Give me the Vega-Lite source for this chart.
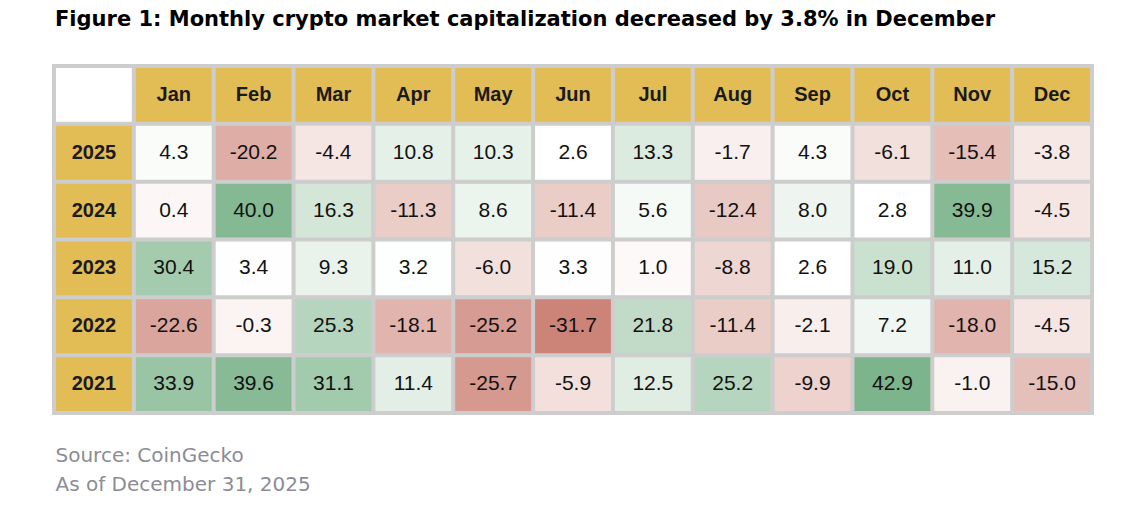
{
  "$schema": "https://vega.github.io/schema/vega-lite/v6.json",
  "width": 1042,
  "height": 351,
  "autosize": "none",
  "padding": {"left": 52, "top": 64, "right": 46, "bottom": 91},
  "background": "#ffffff",
  "config": {"view": {"fill": "#cdcdcd", "stroke": null}},
  "title": {
    "text": "Figure 1: Monthly crypto market capitalization decreased by 3.8% in December",
    "anchor": "start",
    "font": "DejaVu Sans",
    "fontSize": 21,
    "fontWeight": "bold",
    "color": "#000000",
    "offset": 34,
    "dx": 3
  },
  "data": {
    "values": [
      {"kind": "corner", "row": "hdr", "col": "yr", "label": ""},
      {"kind": "month", "row": "hdr", "col": "Jan", "label": "Jan"},
      {"kind": "month", "row": "hdr", "col": "Feb", "label": "Feb"},
      {"kind": "month", "row": "hdr", "col": "Mar", "label": "Mar"},
      {"kind": "month", "row": "hdr", "col": "Apr", "label": "Apr"},
      {"kind": "month", "row": "hdr", "col": "May", "label": "May"},
      {"kind": "month", "row": "hdr", "col": "Jun", "label": "Jun"},
      {"kind": "month", "row": "hdr", "col": "Jul", "label": "Jul"},
      {"kind": "month", "row": "hdr", "col": "Aug", "label": "Aug"},
      {"kind": "month", "row": "hdr", "col": "Sep", "label": "Sep"},
      {"kind": "month", "row": "hdr", "col": "Oct", "label": "Oct"},
      {"kind": "month", "row": "hdr", "col": "Nov", "label": "Nov"},
      {"kind": "month", "row": "hdr", "col": "Dec", "label": "Dec"},
      {"kind": "year", "row": "2025", "col": "yr", "label": "2025"},
      {"kind": "year", "row": "2024", "col": "yr", "label": "2024"},
      {"kind": "year", "row": "2023", "col": "yr", "label": "2023"},
      {"kind": "year", "row": "2022", "col": "yr", "label": "2022"},
      {"kind": "year", "row": "2021", "col": "yr", "label": "2021"},
      {"kind": "cell", "row": "2025", "col": "Jan", "value": 4.3, "label": "4.3"},
      {"kind": "cell", "row": "2025", "col": "Feb", "value": -20.2, "label": "-20.2"},
      {"kind": "cell", "row": "2025", "col": "Mar", "value": -4.4, "label": "-4.4"},
      {"kind": "cell", "row": "2025", "col": "Apr", "value": 10.8, "label": "10.8"},
      {"kind": "cell", "row": "2025", "col": "May", "value": 10.3, "label": "10.3"},
      {"kind": "cell", "row": "2025", "col": "Jun", "value": 2.6, "label": "2.6"},
      {"kind": "cell", "row": "2025", "col": "Jul", "value": 13.3, "label": "13.3"},
      {"kind": "cell", "row": "2025", "col": "Aug", "value": -1.7, "label": "-1.7"},
      {"kind": "cell", "row": "2025", "col": "Sep", "value": 4.3, "label": "4.3"},
      {"kind": "cell", "row": "2025", "col": "Oct", "value": -6.1, "label": "-6.1"},
      {"kind": "cell", "row": "2025", "col": "Nov", "value": -15.4, "label": "-15.4"},
      {"kind": "cell", "row": "2025", "col": "Dec", "value": -3.8, "label": "-3.8"},
      {"kind": "cell", "row": "2024", "col": "Jan", "value": 0.4, "label": "0.4"},
      {"kind": "cell", "row": "2024", "col": "Feb", "value": 40.0, "label": "40.0"},
      {"kind": "cell", "row": "2024", "col": "Mar", "value": 16.3, "label": "16.3"},
      {"kind": "cell", "row": "2024", "col": "Apr", "value": -11.3, "label": "-11.3"},
      {"kind": "cell", "row": "2024", "col": "May", "value": 8.6, "label": "8.6"},
      {"kind": "cell", "row": "2024", "col": "Jun", "value": -11.4, "label": "-11.4"},
      {"kind": "cell", "row": "2024", "col": "Jul", "value": 5.6, "label": "5.6"},
      {"kind": "cell", "row": "2024", "col": "Aug", "value": -12.4, "label": "-12.4"},
      {"kind": "cell", "row": "2024", "col": "Sep", "value": 8.0, "label": "8.0"},
      {"kind": "cell", "row": "2024", "col": "Oct", "value": 2.8, "label": "2.8"},
      {"kind": "cell", "row": "2024", "col": "Nov", "value": 39.9, "label": "39.9"},
      {"kind": "cell", "row": "2024", "col": "Dec", "value": -4.5, "label": "-4.5"},
      {"kind": "cell", "row": "2023", "col": "Jan", "value": 30.4, "label": "30.4"},
      {"kind": "cell", "row": "2023", "col": "Feb", "value": 3.4, "label": "3.4"},
      {"kind": "cell", "row": "2023", "col": "Mar", "value": 9.3, "label": "9.3"},
      {"kind": "cell", "row": "2023", "col": "Apr", "value": 3.2, "label": "3.2"},
      {"kind": "cell", "row": "2023", "col": "May", "value": -6.0, "label": "-6.0"},
      {"kind": "cell", "row": "2023", "col": "Jun", "value": 3.3, "label": "3.3"},
      {"kind": "cell", "row": "2023", "col": "Jul", "value": 1.0, "label": "1.0"},
      {"kind": "cell", "row": "2023", "col": "Aug", "value": -8.8, "label": "-8.8"},
      {"kind": "cell", "row": "2023", "col": "Sep", "value": 2.6, "label": "2.6"},
      {"kind": "cell", "row": "2023", "col": "Oct", "value": 19.0, "label": "19.0"},
      {"kind": "cell", "row": "2023", "col": "Nov", "value": 11.0, "label": "11.0"},
      {"kind": "cell", "row": "2023", "col": "Dec", "value": 15.2, "label": "15.2"},
      {"kind": "cell", "row": "2022", "col": "Jan", "value": -22.6, "label": "-22.6"},
      {"kind": "cell", "row": "2022", "col": "Feb", "value": -0.3, "label": "-0.3"},
      {"kind": "cell", "row": "2022", "col": "Mar", "value": 25.3, "label": "25.3"},
      {"kind": "cell", "row": "2022", "col": "Apr", "value": -18.1, "label": "-18.1"},
      {"kind": "cell", "row": "2022", "col": "May", "value": -25.2, "label": "-25.2"},
      {"kind": "cell", "row": "2022", "col": "Jun", "value": -31.7, "label": "-31.7"},
      {"kind": "cell", "row": "2022", "col": "Jul", "value": 21.8, "label": "21.8"},
      {"kind": "cell", "row": "2022", "col": "Aug", "value": -11.4, "label": "-11.4"},
      {"kind": "cell", "row": "2022", "col": "Sep", "value": -2.1, "label": "-2.1"},
      {"kind": "cell", "row": "2022", "col": "Oct", "value": 7.2, "label": "7.2"},
      {"kind": "cell", "row": "2022", "col": "Nov", "value": -18.0, "label": "-18.0"},
      {"kind": "cell", "row": "2022", "col": "Dec", "value": -4.5, "label": "-4.5"},
      {"kind": "cell", "row": "2021", "col": "Jan", "value": 33.9, "label": "33.9"},
      {"kind": "cell", "row": "2021", "col": "Feb", "value": 39.6, "label": "39.6"},
      {"kind": "cell", "row": "2021", "col": "Mar", "value": 31.1, "label": "31.1"},
      {"kind": "cell", "row": "2021", "col": "Apr", "value": 11.4, "label": "11.4"},
      {"kind": "cell", "row": "2021", "col": "May", "value": -25.7, "label": "-25.7"},
      {"kind": "cell", "row": "2021", "col": "Jun", "value": -5.9, "label": "-5.9"},
      {"kind": "cell", "row": "2021", "col": "Jul", "value": 12.5, "label": "12.5"},
      {"kind": "cell", "row": "2021", "col": "Aug", "value": 25.2, "label": "25.2"},
      {"kind": "cell", "row": "2021", "col": "Sep", "value": -9.9, "label": "-9.9"},
      {"kind": "cell", "row": "2021", "col": "Oct", "value": 42.9, "label": "42.9"},
      {"kind": "cell", "row": "2021", "col": "Nov", "value": -1.0, "label": "-1.0"},
      {"kind": "cell", "row": "2021", "col": "Dec", "value": -15.0, "label": "-15.0"}
    ]
  },
  "encoding": {
    "x": {
      "field": "col",
      "type": "nominal",
      "scale": {
        "domain": ["yr", "Jan", "Feb", "Mar", "Apr", "May", "Jun", "Jul", "Aug", "Sep", "Oct", "Nov", "Dec"],
        "paddingInner": 0.05,
        "paddingOuter": 0.05
      },
      "axis": {
        "labels": false,
        "ticks": false,
        "domain": false,
        "grid": false,
        "title": ["Source: CoinGecko", "As of December 31, 2025"],
        "titleAnchor": "start",
        "titleAlign": "left",
        "titleX": 3,
        "titleFont": "DejaVu Sans",
        "titleFontSize": 20,
        "titleFontWeight": "normal",
        "titleColor": "#8c8c96",
        "titleLineHeight": 29,
        "titlePadding": 30
      }
    },
    "y": {
      "field": "row",
      "type": "nominal",
      "scale": {
        "domain": ["hdr", "2025", "2024", "2023", "2022", "2021"],
        "paddingInner": 0.069,
        "paddingOuter": 0.069
      },
      "axis": null
    }
  },
  "layer": [
    {
      "transform": [{"filter": "datum.kind !== 'cell'"}],
      "mark": {"type": "rect"},
      "encoding": {
        "color": {
          "condition": {"test": "datum.kind === 'corner'", "value": "#ffffff"},
          "value": "#e2bd55"
        }
      }
    },
    {
      "transform": [{"filter": "datum.kind === 'cell'"}],
      "mark": {"type": "rect"},
      "encoding": {
        "color": {
          "field": "value",
          "type": "quantitative",
          "scale": {
            "type": "linear",
            "domain": [-31.7, 2.7, 42.9],
            "range": ["#cd8478", "#ffffff", "#7cb48b"],
            "interpolate": "rgb"
          },
          "legend": null
        }
      }
    },
    {
      "transform": [{"filter": "datum.kind !== 'cell'"}],
      "mark": {"type": "text", "font": "Liberation Sans", "fontSize": 20, "fontWeight": "bold", "color": "#1a1a1a", "baseline": "middle"},
      "encoding": {"text": {"field": "label"}}
    },
    {
      "transform": [{"filter": "datum.kind === 'cell'"}],
      "mark": {"type": "text", "font": "Liberation Sans", "fontSize": 21, "color": "#111111", "baseline": "middle"},
      "encoding": {"text": {"field": "label"}}
    }
  ]
}
